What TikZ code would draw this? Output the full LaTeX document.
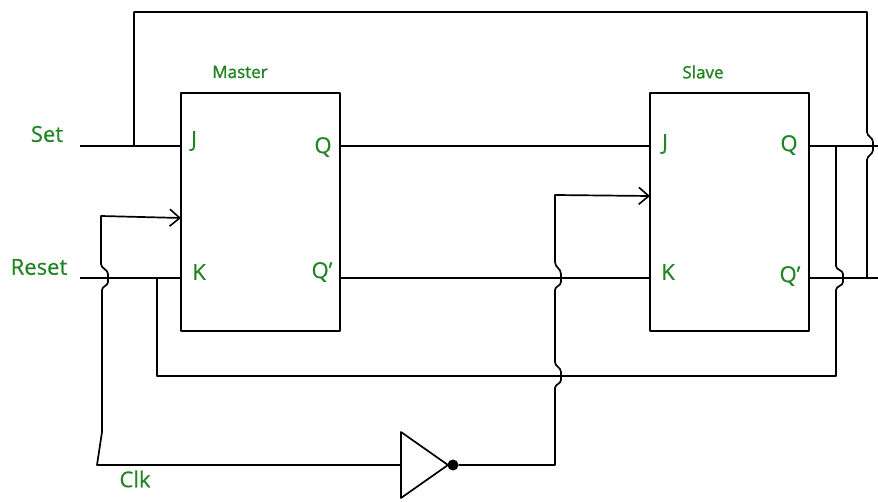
\documentclass[tikz,border=0pt]{standalone}
\usepackage{fontspec}
\setmainfont{Open Sans}
\newfontfamily\lblfont[FakeBold=0.6]{Open Sans}
\newfontfamily\ttlfont[FakeBold=1.4]{Open Sans}
\usetikzlibrary{arrows.meta}
\definecolor{lblgreen}{RGB}{34,132,34}
\tikzset{
  ff/.style={draw, minimum width=159pt, minimum height=238pt, inner sep=0pt},
  pinlbl/.style={text=lblgreen, font=\lblfont\fontsize{22}{24}\selectfont, inner sep=0pt},
  ttl/.style={text=lblgreen, font=\ttlfont\fontsize{17}{19}\selectfont, inner sep=0pt},
  wire/.style={line width=1.7pt, line join=round},
  clkarrow/.style={-{Straight Barb[length=10pt,width=17pt,line width=1.6pt]}},
}
\begin{document}
\begin{tikzpicture}[x=1pt,y=-1pt]
  \useasboundingbox (0,0) rectangle (878,502);
  % flip-flops
  \node[ff, wire] (M) at (260.5,212) {};
  \node[ff, wire] (S) at (729.5,212) {};
  \node[ttl] (master) at (240,72) {Master};
  \node[ttl] (slave) at (703,72) {Slave};
  \draw
    (194,141) node[pinlbl] (mj){J}
    (323,147) node[pinlbl] (mq){Q}
    (199,272) node[pinlbl] (mk){K}
    (322,272) node[pinlbl] (mqn){Q’}
    (665,144) node[pinlbl] (sj){J}
    (789,145) node[pinlbl] (sq){Q}
    (668,272) node[pinlbl] (sk){K}
    (790,276) node[pinlbl] (sqn){Q’}
    (47,134) node[pinlbl] (set){Set}
    (39,267) node[pinlbl] (reset){Reset}
    (135,479) node[pinlbl] (clk){Clk};
  % pins
  \coordinate (MJ) at (181,146);
  \coordinate (MK) at (181,278);
  \coordinate (MC) at (181,218);
  \coordinate (MQ) at (340,146);
  \coordinate (MQn) at (340,278);
  \coordinate (SJ) at (650,146);
  \coordinate (SK) at (650,278);
  \coordinate (SC) at (650,196);
  \coordinate (SQ) at (809,146);
  \coordinate (SQn) at (809,278);
  \coordinate (setin) at (80,146);
  \coordinate (resetin) at (80,278);
  \coordinate (qout) at (878,146);
  \coordinate (qnout) at (878,278);
  % inverter
  \draw[wire] (401,432) -- (448,465) -- (401,498) -- cycle;
  \coordinate (inv) at (401,465);
  \node[circle, fill, inner sep=0pt, minimum size=11pt] (bub) at (453,465) {};
  \begin{scope}[wire]
    \draw (setin) -- (MJ);
    \draw (resetin) -- (MK);
    \draw (MQ) -- (SJ);
    \draw (MQn) -- (SK);
    \draw (SQ) -- (qout);
    \draw (SQn) -- (qnout);
    % feedback to set
    \draw (134,146) -- (134,12) -- (867,12) -- (867,132)
      to[out=-90,in=90] (873,142) -- (873,150) to[out=-90,in=90] (867,160)
      -- (867,278);
    % feedback to reset
    \draw (836,146) -- (836,266)
      to[out=-90,in=90] (843,274) -- (843,282) to[out=-90,in=90] (836,290)
      -- (836,376) -- (157,376) -- (157,278);
    % clock
    \draw[clkarrow] (inv) -- (97,465) -- (102,432) -- (102,290)
      to[out=90,in=-90] (108,282) -- (108,274) to[out=90,in=-90] (101,264)
      -- (101,216) -- (MC);
    \draw[clkarrow] (bub) -- (555,465) -- (555,388)
      to[out=90,in=-90] (561,380) -- (561,372) to[out=90,in=-90] (555,362)
      -- (555,290)
      to[out=90,in=-90] (561,282) -- (561,274) to[out=90,in=-90] (555,262)
      -- (555,195) -- (SC);
  \end{scope}
\end{tikzpicture}
\end{document}
